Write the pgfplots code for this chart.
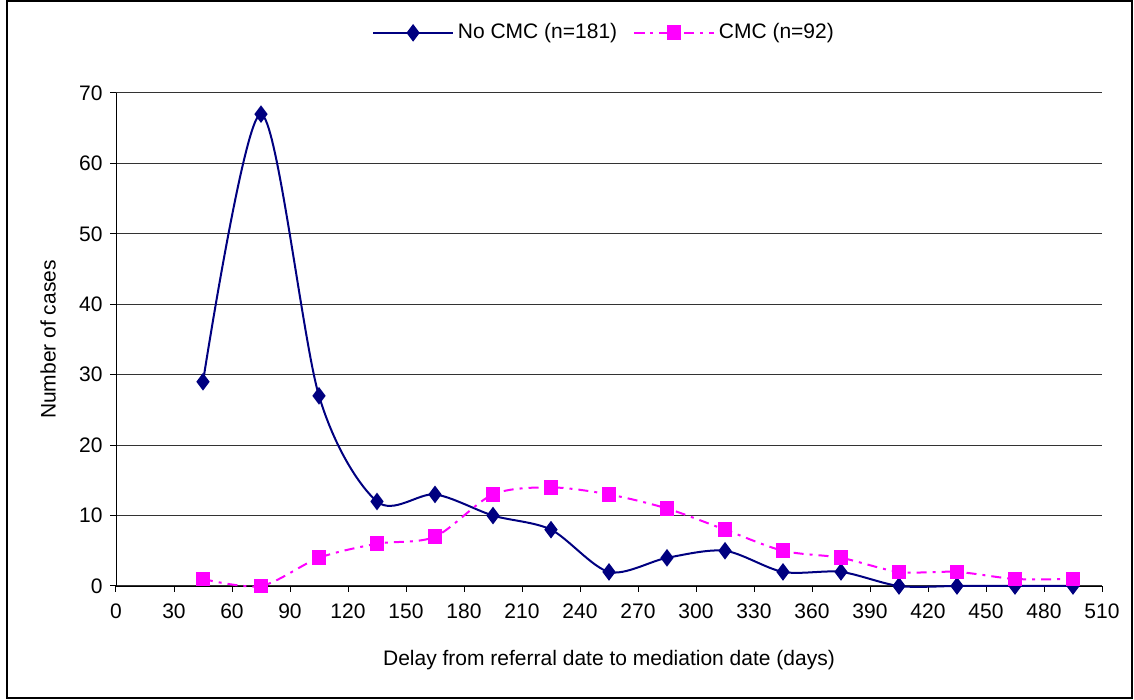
\documentclass[border=0pt]{standalone}
\usepackage{pgfplots}
\pgfplotsset{compat=1.18}
\usepackage{fontspec}
\setmainfont{Liberation Sans}
\definecolor{navyc}{RGB}{0,0,128}
\definecolor{magc}{RGB}{255,0,255}
\begin{document}
\fontsize{10.5}{12}\selectfont
\begin{tikzpicture}[x=0.5pt,y=0.5pt]
\useasboundingbox (-116,-114) rectangle (1018,586);
\draw[black,line width=0.6pt] (-109,-112) rectangle (1016,585);
\begin{axis}[
  at={(0,0)}, anchor=south west,
  scale only axis, width=493pt, height=246.5pt,
  xmin=0, xmax=510, ymin=0, ymax=70,
  xtick={0,30,...,510}, ytick={0,10,...,70},
  axis x line*=bottom, axis y line*=left,
  x axis line style={-}, y axis line style={-},
  tick align=outside, major tick length=3pt,
  tick style={black, line width=0.5pt},
  ymajorgrids, grid style={black!80, line width=0.5pt},
  clip=false,
  /pgf/number format/assume math mode=true,
  ticklabel style={font=\fontsize{10.5}{12}\selectfont},
  xticklabel style={yshift=-2pt},
  xlabel={Delay from referral date to mediation date (days)},
  ylabel={Number of cases},
  xlabel style={at={(axis description cs:0.5,0)}, anchor=center, yshift=-37pt},
  ylabel style={at={(axis description cs:0,0.5)}, anchor=center, rotate=0, yshift=34pt},
  legend columns=2,
  legend style={at={(0.496,1.122)}, anchor=center, draw=none, fill=none,
    font=\fontsize{10.5}{12}\selectfont,
    /tikz/every even column/.append style={column sep=6pt}},
  legend image code/.code={\draw[mark repeat=2,mark phase=2] plot coordinates {(0cm,0cm) (0.7cm,0cm) (1.4cm,0cm)};},
]
\addplot[navyc, line width=1pt, smooth, mark=diamond*, mark size=3.6pt,
  mark options={solid, fill=navyc}] coordinates {
(45,29) (75,67) (105,27) (135,12) (165,13) (195,10) (225,8) (255,2)
(285,4) (315,5) (345,2) (375,2) (405,0) (435,0) (465,0) (495,0)};
\addlegendentry{No CMC (n=181)}
\addplot[magc, line width=1pt, smooth, dash pattern=on 5pt off 3pt on 1.5pt off 3pt,
  mark=square*, mark size=3.2pt, mark options={solid, fill=magc}] coordinates {
(45,1) (75,0) (105,4) (135,6) (165,7) (195,13) (225,14) (255,13)
(285,11) (315,8) (345,5) (375,4) (405,2) (435,2) (465,1) (495,1)};
\addlegendentry{CMC (n=92)}
\end{axis}
\end{tikzpicture}
\end{document}
